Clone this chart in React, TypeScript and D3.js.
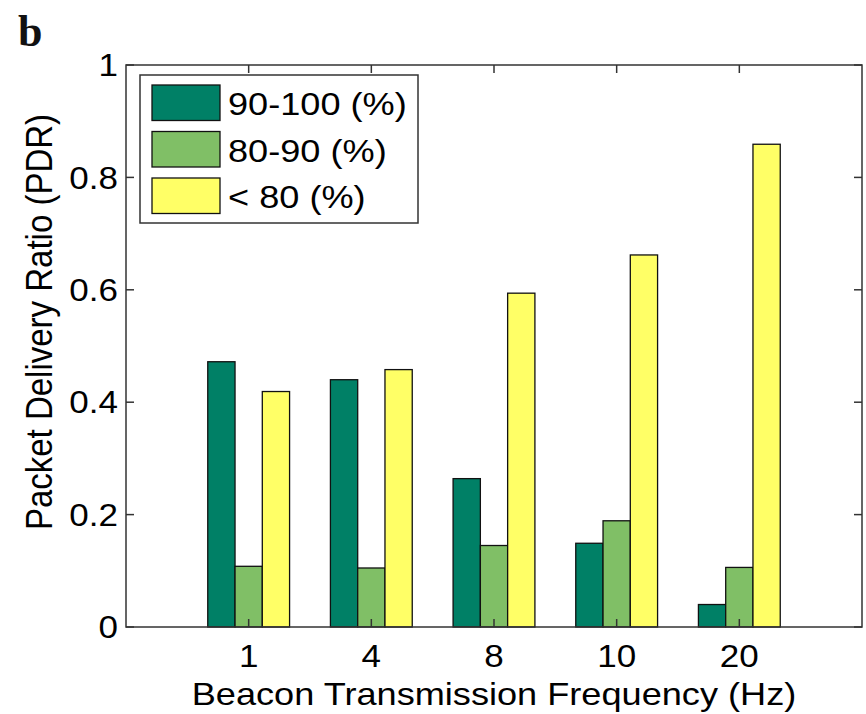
import { useRef, useEffect } from "react";
import * as d3 from "d3";

const categories = ["1", "4", "8", "10", "20"];
const seriesNames = ["90-100 (%)", "80-90 (%)", "< 80 (%)"];
const high = [0.472, 0.44, 0.264, 0.149, 0.04];
const mid = [0.108, 0.105, 0.145, 0.189, 0.106];
const low = [0.419, 0.458, 0.594, 0.662, 0.859];
const yTicks = [0, 0.2, 0.4, 0.6, 0.8, 1];
const yTickLabels = ["0", "0.2", "0.4", "0.6", "0.8", "1"];
const colors = ["#008066", "#80bf66", "#ffff66"];

const App = () => {
  const ref = useRef<SVGSVGElement | null>(null);

  useEffect(() => {
    if (!ref.current) return;
    const svg = d3.select(ref.current);
    svg.selectAll("*").remove();

    const width = 866;
    const height = 714;
    const plot = { left: 126, right: 862, top: 65, bottom: 627 };
    const font = "'Liberation Sans', Arial, sans-serif";
    const series = [high, mid, low];
    const stretch = 1.13; // the original figure's text is a bit wide

    // x: categories sit at 1..5 on a 0..6 axis, like matlab's bar()
    const x = d3.scaleLinear().domain([0, 6]).range([plot.left, plot.right]);
    const y = d3.scaleLinear().domain([0, 1]).range([plot.bottom, plot.top]);
    const step = x(1) - x(0);
    const barW = (step * 0.667) / 3;

    svg.append("rect").attr("width", width).attr("height", height).attr("fill", "#fff");

    // panel letter
    svg
      .append("text")
      .attr("x", 18)
      .attr("y", 46)
      .attr("font-family", "'Liberation Serif', 'Times New Roman', serif")
      .attr("font-weight", "bold")
      .attr("font-size", 44)
      .attr("fill", "#111")
      .text("b");

    // bars
    series.forEach((vals, si) => {
      svg
        .append("g")
        .selectAll("rect")
        .data(vals)
        .join("rect")
        .attr("x", (_d, i) => x(i + 1) - 1.5 * barW + si * barW)
        .attr("y", (d) => y(d))
        .attr("width", barW)
        .attr("height", (d) => y(0) - y(d))
        .attr("fill", colors[si])
        .attr("stroke", "#111")
        .attr("stroke-width", 1.3);
    });

    // axes box
    svg
      .append("rect")
      .attr("x", plot.left)
      .attr("y", plot.top)
      .attr("width", plot.right - plot.left)
      .attr("height", plot.bottom - plot.top)
      .attr("fill", "none")
      .attr("stroke", "#333")
      .attr("stroke-width", 1.5);

    const tickLen = 8;
    const ticks = svg.append("g").attr("stroke", "#333").attr("stroke-width", 1.5);
    yTicks.forEach((t) => {
      ticks.append("line").attr("x1", plot.left).attr("x2", plot.left + tickLen).attr("y1", y(t)).attr("y2", y(t));
      ticks.append("line").attr("x1", plot.right).attr("x2", plot.right - tickLen).attr("y1", y(t)).attr("y2", y(t));
    });
    categories.forEach((_c, i) => {
      ticks.append("line").attr("x1", x(i + 1)).attr("x2", x(i + 1)).attr("y1", plot.top).attr("y2", plot.top + tickLen);
      ticks.append("line").attr("x1", x(i + 1)).attr("x2", x(i + 1)).attr("y1", plot.bottom).attr("y2", plot.bottom - tickLen);
    });

    // tick labels
    svg
      .append("g")
      .selectAll("text")
      .data(yTicks)
      .join("text")
      .attr("transform", (d) => `translate(${plot.left - 8},${y(d)}) scale(${stretch},1)`)
      .attr("dy", "0.36em")
      .attr("text-anchor", "end")
      .attr("font-family", font)
      .attr("font-size", 31)
      .text((_d, i) => yTickLabels[i]);

    svg
      .append("g")
      .selectAll("text")
      .data(categories)
      .join("text")
      .attr("transform", (_d, i) => `translate(${x(i + 1)},667) scale(${stretch},1)`)
      .attr("text-anchor", "middle")
      .attr("font-family", font)
      .attr("font-size", 31)
      .text((d) => d);

    // axis titles
    svg
      .append("text")
      .attr("transform", `translate(${(plot.left + plot.right) / 2},705) scale(${stretch},1)`)
      .attr("text-anchor", "middle")
      .attr("font-family", font)
      .attr("font-size", 32)
      .text("Beacon Transmission Frequency (Hz)");

    svg
      .append("text")
      .attr("transform", `translate(52,322) rotate(-90) scale(1,${stretch})`)
      .attr("text-anchor", "middle")
      .attr("font-family", font)
      .attr("font-size", 33)
      .text("Packet Delivery Ratio (PDR)");

    // legend
    const leg = svg.append("g");
    leg
      .append("rect")
      .attr("x", 140)
      .attr("y", 75)
      .attr("width", 278)
      .attr("height", 148)
      .attr("fill", "#fff")
      .attr("stroke", "#333")
      .attr("stroke-width", 1.5);
    seriesNames.forEach((name, i) => {
      const top = 85 + i * 46.5;
      leg
        .append("rect")
        .attr("x", 152)
        .attr("y", top)
        .attr("width", 68)
        .attr("height", 35.5)
        .attr("fill", colors[i])
        .attr("stroke", "#111")
        .attr("stroke-width", 1.3);
      leg
        .append("text")
        .attr("transform", `translate(228,${top + 30}) scale(${stretch},1)`)
        .attr("font-family", font)
        .attr("font-size", 32)
        .text(name);
    });
  }, []);

  return (
    <svg
      ref={ref}
      width={866}
      height={714}
      style={{ position: "absolute", left: 0, top: 0 }}
    />
  );
};

export default App;
